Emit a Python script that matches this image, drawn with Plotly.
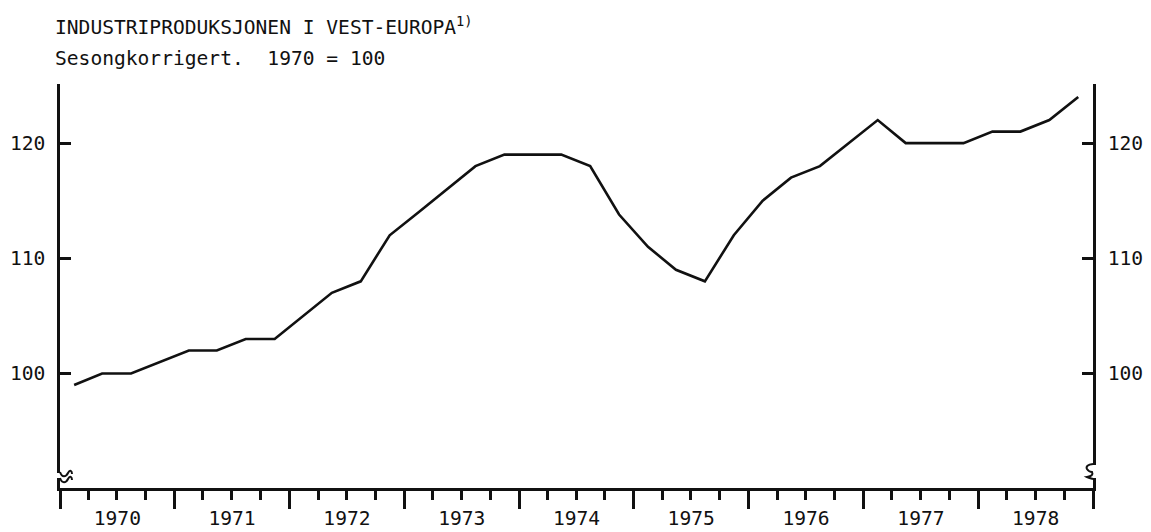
import plotly.graph_objects as go

# ---- data ----
years = [1970]*4 + [1971]*4 + [1972]*4 + [1973]*4 + [1974]*4 + [1975]*4 + [1976]*4 + [1977]*4 + [1978]*4
quarters = [1, 2, 3, 4] * 9
index_values = [99, 100, 100, 101,
                102, 102, 103, 103,
                105, 107, 108, 112,
                114, 116, 118, 119,
                119, 119, 118, 113.8,
                111, 109, 108, 112,
                115, 117, 118, 120,
                122, 120, 120, 120,
                121, 121, 122, 124]
y_tick_values = [100, 110, 120]
title_text = "INDUSTRIPRODUKSJONEN I VEST-EUROPA<sup>1)</sup>"
subtitle_text = "Sesongkorrigert.&nbsp; 1970 = 100"

# quarter mid-points as dates
dates = [f"{y}-{3*(q-1)+2:02d}-15" for y, q in zip(years, quarters)]

# ---- layout geometry ----
# the page body adds an 8px offset, so the figure is made 8px smaller on each side
OFF = 8
W_PX, H_PX = 1151 - OFF, 532 - OFF
# plot area in screen pixels
SL, SR, ST, SB = 60, 1093, 84, 488
L, R, T, B = SL - OFF, SR - OFF, ST - OFF, SB - OFF
PW, PH = R - L, B - T

def px(x):  # screen x -> paper
    return (x - OFF - L) / PW

def py(y):  # screen y -> paper
    return (B - (y - OFF)) / PH

def path(cmds):
    out = []
    for cmd, pts in cmds:
        out.append(cmd + " " + " ".join(f"{px(x):.5f},{py(y):.5f}" for x, y in pts))
    return " ".join(out)

FONT = "DejaVu Sans Mono"
FS = 19.6
BLACK = "#111111"

fig = go.Figure()
fig.add_trace(go.Scatter(x=dates, y=index_values, mode="lines",
                         line=dict(color=BLACK, width=2.6), showlegend=False,
                         hoverinfo="skip"))
fig.add_trace(go.Scatter(x=dates, y=index_values, mode="lines", yaxis="y2",
                         line=dict(color="rgba(0,0,0,0)", width=0), showlegend=False,
                         hoverinfo="skip"))

yrange = [90.06, 125.13]
axis_font = dict(family=FONT, size=FS, color=BLACK)

fig.update_layout(
    width=W_PX, height=H_PX,
    margin=dict(l=L, r=W_PX - R, t=T, b=H_PX - B, pad=0, autoexpand=False),
    paper_bgcolor="white", plot_bgcolor="white",
    xaxis=dict(type="date", range=["1970-01-01", "1979-01-01"],
               tick0="1970-01-01", dtick="M12", tickformat="%Y",
               ticklabelmode="period", ticks="outside", ticklen=18,
               tickwidth=2.5, tickcolor=BLACK, showline=True, linecolor=BLACK,
               linewidth=2.6, showgrid=False, zeroline=False,
               tickfont=axis_font, ticklabelstandoff=-7,
               minor=dict(dtick="M3", tick0="1970-01-01", ticks="outside",
                          ticklen=9, tickwidth=2.5, tickcolor=BLACK, showgrid=False)),
    yaxis=dict(range=yrange, tickvals=y_tick_values, ticks="inside", ticklen=11,
               tickwidth=2.5, tickcolor=BLACK, showline=True, linecolor=BLACK,
               linewidth=2.6, showgrid=False, zeroline=False, tickfont=axis_font,
               ticklabelstandoff=8),
    yaxis2=dict(range=yrange, tickvals=y_tick_values, overlaying="y", side="right",
                ticks="inside", ticklen=11, tickwidth=2.5, tickcolor=BLACK,
                showline=True, linecolor=BLACK, linewidth=2.6, showgrid=False,
                zeroline=False, tickfont=axis_font, ticklabelstandoff=8),
    annotations=[
        dict(text=title_text, xref="paper", yref="paper", x=px(53), y=py(26),
             xanchor="left", yanchor="middle", showarrow=False,
             font=dict(family=FONT, size=FS, color=BLACK)),
        dict(text=subtitle_text, xref="paper", yref="paper", x=px(53), y=py(59),
             xanchor="left", yanchor="middle", showarrow=False,
             font=dict(family=FONT, size=FS, color=BLACK)),
    ],
    shapes=[
        # left axis break
        dict(type="rect", xref="paper", yref="paper", layer="above",
             x0=px(55), x1=px(65), y0=py(478), y1=py(473),
             fillcolor="white", line=dict(width=0)),
        dict(type="path", xref="paper", yref="paper", layer="above",
             path=path([("M", [(60, 472)]), ("C", [(62, 478), (66, 477), (68, 473)]),
                        ("S", [(72, 471), (72, 474)])]),
             line=dict(color=BLACK, width=2)),
        dict(type="path", xref="paper", yref="paper", layer="above",
             path=path([("M", [(60, 478)]), ("C", [(62, 484), (66, 483), (68, 479)]),
                        ("S", [(72, 477), (72, 480)])]),
             line=dict(color=BLACK, width=2)),
        # right axis break
        dict(type="rect", xref="paper", yref="paper", layer="above",
             x0=px(1088), x1=px(1098), y0=py(478), y1=py(465),
             fillcolor="white", line=dict(width=0)),
        dict(type="path", xref="paper", yref="paper", layer="above",
             path=path([("M", [(1093, 464)]), ("Q", [(1085, 465), (1087, 469)]),
                        ("Q", [(1089, 472), (1092, 472)]),
                        ("Q", [(1094, 476), (1087, 477)]),
                        ("Q", [(1089, 478), (1093, 479)])]),
             line=dict(color=BLACK, width=2)),
    ],
)

fig.write_html("out.html")
